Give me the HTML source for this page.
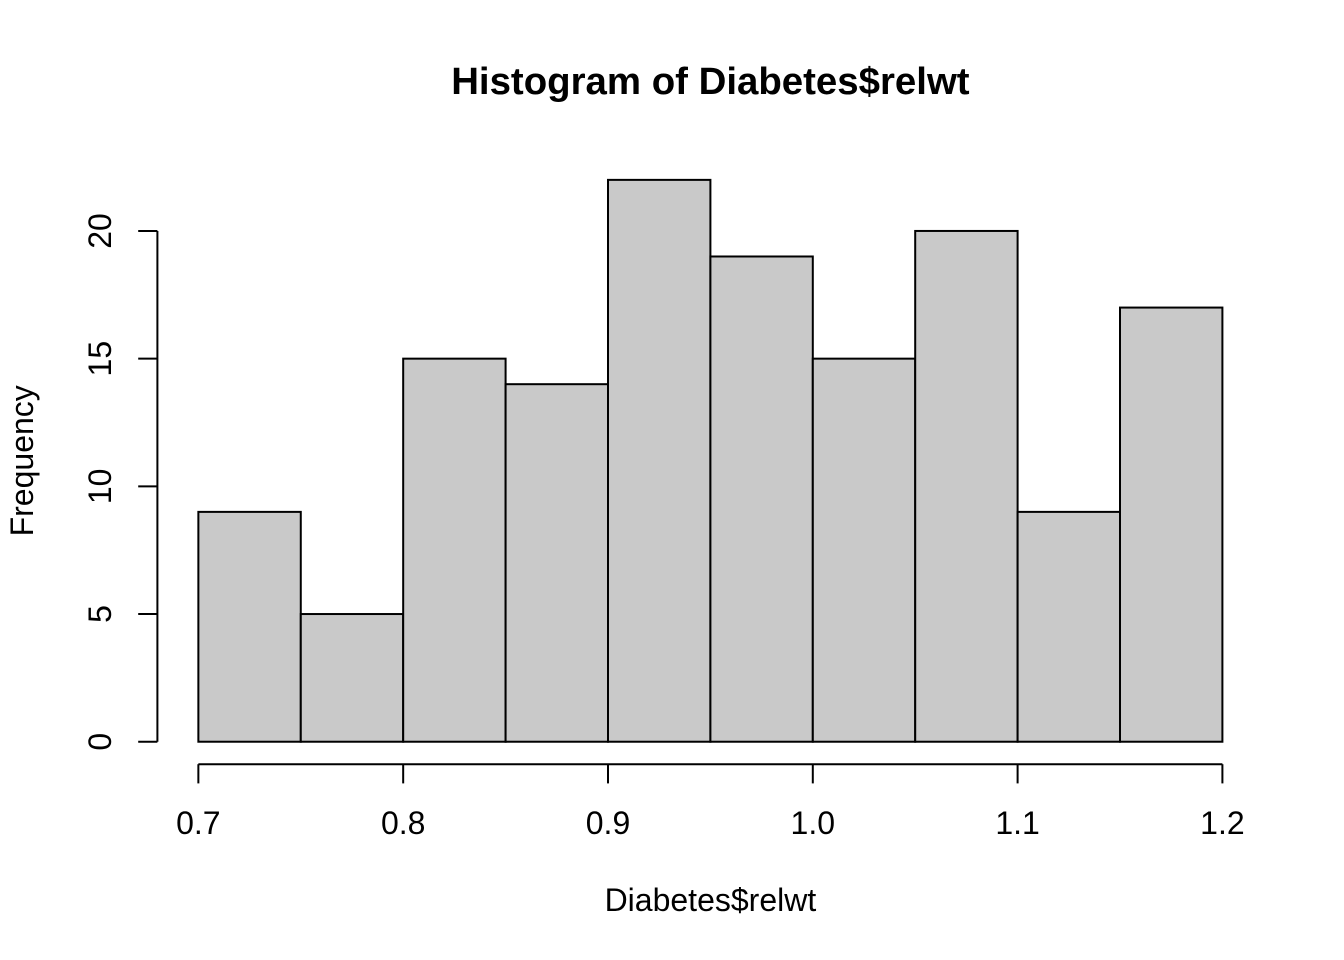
<!DOCTYPE html>
<html>
<head>
<meta charset="utf-8">
<style>
html,body{margin:0;padding:0;background:#fff;}
svg{display:block;}
text{font-family:"Liberation Sans",Arial,sans-serif;fill:#000;}
</style>
</head>
<body>
<svg width="1344" height="960" viewBox="0 0 1344 960" xmlns="http://www.w3.org/2000/svg">
<rect x="0" y="0" width="1344" height="960" fill="#fff"/>
<text x="710.4" y="94" font-size="38.4" font-weight="bold" text-anchor="middle">Histogram of Diabetes$relwt</text>
<g fill="#C9C9C9" stroke="#000" stroke-width="2">
<rect x="198.36" y="511.88" width="102.41" height="229.85"/>
<rect x="300.77" y="614.04" width="102.41" height="127.69"/>
<rect x="403.18" y="358.65" width="102.41" height="383.08"/>
<rect x="505.59" y="384.19" width="102.41" height="357.54"/>
<rect x="608.00" y="179.87" width="102.40" height="561.86"/>
<rect x="710.40" y="256.49" width="102.40" height="485.24"/>
<rect x="812.80" y="358.65" width="102.40" height="383.08"/>
<rect x="915.20" y="230.95" width="102.40" height="510.78"/>
<rect x="1017.60" y="511.88" width="102.40" height="229.85"/>
<rect x="1120.00" y="307.57" width="102.40" height="434.16"/>
</g>
<g stroke="#000" stroke-width="2" fill="none">
<line x1="198.36" y1="764.2" x2="1222.4" y2="764.2"/>
<line x1="198.36" y1="764.2" x2="198.36" y2="783.4"/>
<line x1="403.18" y1="764.2" x2="403.18" y2="783.4"/>
<line x1="608.0" y1="764.2" x2="608.0" y2="783.4"/>
<line x1="812.8" y1="764.2" x2="812.8" y2="783.4"/>
<line x1="1017.6" y1="764.2" x2="1017.6" y2="783.4"/>
<line x1="1222.4" y1="764.2" x2="1222.4" y2="783.4"/>
<line x1="157.4" y1="741.73" x2="157.4" y2="230.95"/>
<line x1="157.4" y1="741.73" x2="138.2" y2="741.73"/>
<line x1="157.4" y1="614.04" x2="138.2" y2="614.04"/>
<line x1="157.4" y1="486.34" x2="138.2" y2="486.34"/>
<line x1="157.4" y1="358.65" x2="138.2" y2="358.65"/>
<line x1="157.4" y1="230.95" x2="138.2" y2="230.95"/>
</g>
<g font-size="32" text-anchor="middle">
<text x="198.36" y="834">0.7</text>
<text x="403.18" y="834">0.8</text>
<text x="608.0" y="834">0.9</text>
<text x="812.8" y="834">1.0</text>
<text x="1017.6" y="834">1.1</text>
<text x="1222.4" y="834">1.2</text>
<text transform="translate(111,741.73) rotate(-90)">0</text>
<text transform="translate(111,614.04) rotate(-90)">5</text>
<text transform="translate(111,486.34) rotate(-90)">10</text>
<text transform="translate(111,358.65) rotate(-90)">15</text>
<text transform="translate(111,230.95) rotate(-90)">20</text>
<text x="710.4" y="911">Diabetes$relwt</text>
<text transform="translate(33,460.8) rotate(-90)">Frequency</text>
</g>
</svg>
</body>
</html>
